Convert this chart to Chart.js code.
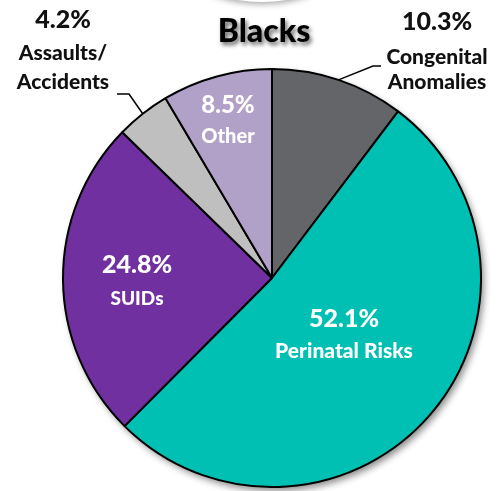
<!DOCTYPE html>
<html><head><meta charset="utf-8">
<script src="https://cdn.jsdelivr.net/npm/chart.js@4"></script>
<style>html,body{margin:0;padding:0;background:#fff;overflow:hidden}#wrap{width:498px;height:491px;}</style>
</head><body><div id="wrap"><canvas id="c" width="498" height="491"></canvas></div>
<script>
const chartTitle = 'Blacks';
const categories = ['Congenital Anomalies', 'Perinatal Risks', 'SUIDs', 'Assaults/Accidents', 'Other'];
const labelLines = [['Congenital', 'Anomalies'], ['Perinatal Risks'], ['SUIDs'], ['Assaults/', 'Accidents'], ['Other']];
const values = [10.3, 52.1, 24.8, 4.2, 8.5];
const colors = ['#636569', '#00BFB3', '#7030A0', '#BFBFBF', '#B1A0C7'];

const FONT = 'Lato, "Open Sans", sans-serif';
const W = '900';
// label styling / placement (not data)
const labelStyle = [
  {outside: true, x: 437, pctY: 30, lineYs: [64, 89], pctSize: 25, nameSize: 21, color: '#111', elbow: [373, 66], end: [381, 66]},
  {outside: false, x: 344, pctY: 327, lineYs: [358], pctSize: 25, nameSize: 21, color: '#fff'},
  {outside: false, x: 137, pctY: 273, lineYs: [305], pctSize: 25, nameSize: 19, color: '#fff'},
  {outside: true, x: 63, pctY: 28, lineYs: [60, 89], pctSize: 25, nameSize: 21, color: '#111', elbow: [129, 94], end: [117, 94]},
  {outside: false, x: 228, pctY: 113, lineYs: [143], pctSize: 24, nameSize: 20, color: '#fff'}
];

const decorPlugin = {
  id: 'decor',
  beforeDatasetsDraw(chart) {
    const arc = chart.getDatasetMeta(0).data[0];
    if (!arc) return;
    const ctx = chart.ctx;
    ctx.save();
    // faint glow at top edge
    ctx.shadowColor = 'rgba(0,0,0,0.35)';
    ctx.shadowBlur = 6;
    ctx.shadowOffsetY = 2;
    ctx.beginPath();
    ctx.ellipse(262, -28, 68, 30, 0, 0, Math.PI * 2);
    ctx.fillStyle = '#fff';
    ctx.fill();
    ctx.restore();

    ctx.save();
    ctx.shadowColor = 'rgba(0,0,0,0.45)';
    ctx.shadowBlur = 7;
    ctx.shadowOffsetX = 3;
    ctx.shadowOffsetY = 4;
    ctx.beginPath();
    ctx.arc(arc.x, arc.y, arc.outerRadius, 0, Math.PI * 2);
    ctx.fillStyle = '#fff';
    ctx.fill();
    ctx.restore();
  },
  afterDatasetsDraw(chart) {
    const ctx = chart.ctx;
    const meta = chart.getDatasetMeta(0);
    ctx.save();
    ctx.font = W + ' 32px ' + FONT;
    ctx.textAlign = 'center';
    ctx.textBaseline = 'alphabetic';
    ctx.shadowColor = 'rgba(0,0,0,0.6)';
    ctx.shadowBlur = 4;
    ctx.shadowOffsetX = 2;
    ctx.shadowOffsetY = 3;
    ctx.fillStyle = '#000';
    ctx.fillText(chartTitle, 264, 42);
    ctx.restore();

    meta.data.forEach((arc, i) => {
      const st = labelStyle[i];
      ctx.save();
      if (st.outside) {
        const mid = (arc.startAngle + arc.endAngle) / 2;
        const sx = arc.x + Math.cos(mid) * arc.outerRadius;
        const sy = arc.y + Math.sin(mid) * arc.outerRadius;
        ctx.beginPath();
        ctx.moveTo(sx, sy);
        ctx.lineTo(st.elbow[0], st.elbow[1]);
        ctx.lineTo(st.end[0], st.end[1]);
        ctx.strokeStyle = '#000';
        ctx.lineWidth = 1.5;
        ctx.stroke();
      }
      ctx.fillStyle = st.color;
      ctx.textAlign = 'center';
      ctx.textBaseline = 'alphabetic';
      ctx.font = W + ' ' + st.pctSize + 'px ' + FONT;
      ctx.fillText(values[i].toFixed(1) + '%', st.x, st.pctY);
      ctx.font = W + ' ' + st.nameSize + 'px ' + FONT;
      labelLines[i].forEach((t, k) => ctx.fillText(t, st.x, st.lineYs[k]));
      ctx.restore();
    });
  }
};

new Chart(document.getElementById('c'), {
  type: 'pie',
  data: {
    labels: categories,
    datasets: [{
      data: values,
      backgroundColor: colors,
      borderColor: '#000',
      borderWidth: 2,
      borderAlign: 'center'
    }]
  },
  options: {
    responsive: false,
    animation: false,
    layout: {padding: {left: 62, top: 68, right: 16, bottom: 3}},
    plugins: {legend: {display: false}, tooltip: {enabled: false}, title: {display: false}}
  },
  plugins: [decorPlugin]
});
</script>
</body></html>
